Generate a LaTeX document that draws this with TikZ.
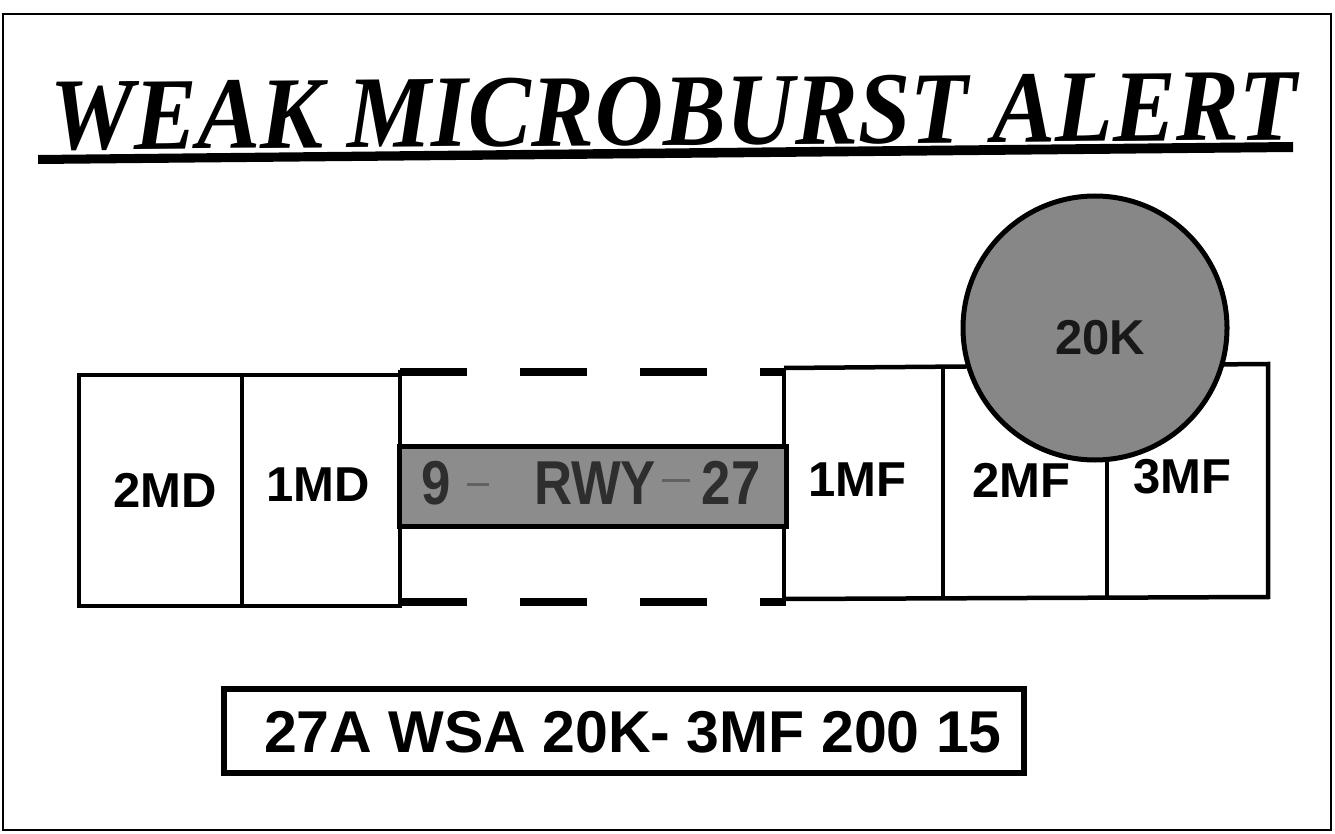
\documentclass[tikz,border=0pt]{standalone}
\usepackage{fontspec}
\setmainfont{Liberation Serif}
\newfontfamily\labfont{Liberation Sans}
\begin{document}
\begin{tikzpicture}[x=1pt,y=-1pt,
  cellline/.style={line width=4.5pt},
  lab/.style={font=\labfont\bfseries\fontsize{49}{49}\selectfont, inner sep=0pt},
  rwylab/.style={font=\labfont\bfseries\fontsize{62}{62}\selectfont, inner sep=0pt, text=black!82, xscale=0.85},
  dashline/.style={line width=8pt, dash pattern=on 67pt off 53pt}]
\useasboundingbox (0,0) rectangle (1335,834);
\fill[white] (0,0) rectangle (1335,834);
% frame
\draw[line width=2pt] (3,14) rectangle (1331,830);
% title
\node[inner sep=0pt, anchor=base west, rotate=0.46] (title) at (50,150)
  {\resizebox{1247pt}{68pt}{\bfseries\itshape WEAK MICROBURST ALERT}};
\fill (38,155) -- (1293,142) -- (1293,152) -- (38,164) -- cycle;
% left boxes
\draw[cellline] (79,375) rectangle (400,606);
\draw[cellline] (242,375) -- (242,606);
% runway dashed section
\draw[dashline] (400,372) -- (786,372);
\draw[dashline] (400,602) -- (786,602);
\draw[cellline] (400,370) -- (400,604);
\draw[cellline] (784,368) -- (784,604);
% right boxes
\draw[cellline] (784,368) -- (1268,364) -- (1268,597) -- (784,599);
\draw[cellline] (943,367) -- (943,599);
\draw[cellline] (1107,366) -- (1107,598);
% runway bar
\node[draw, line width=5pt, fill=black!45, minimum width=387pt, minimum height=80pt, inner sep=0pt] (rwy) at (593,486) {};
\node[rwylab] (r9) at (436,483) {9};
\node[rwylab] (rr) at (595,483) {RWY};
\node[rwylab] (r27) at (731,483) {27};
\draw[black!62, line width=3pt] (467,484) -- (489,484);
\draw[black!62, line width=3pt] (662,480) -- (690,480);
% labels
\node[lab] (md2) at (165,490) {2MD};
\node[lab] (md1) at (318,485) {1MD};
\node[lab] (mf1) at (857,480) {1MF};
\node[lab] (mf2) at (1021,480) {2MF};
\node[lab] (mf3) at (1182,477) {3MF};
% circle
\node[circle, draw, line width=5pt, fill=black!47, minimum size=264pt, inner sep=0pt] (burst) at (1095,328) {};
\node[lab, text=black!90] (k20) at (1100,338) {20K};
% bottom message
\node[draw, line width=6pt, minimum width=800pt, minimum height=84pt, inner sep=0pt] (msg) at (624,731) {};
\node[font=\labfont\bfseries\fontsize{59}{59}\selectfont, inner sep=0pt] (msgtxt) at (633,732) {27A WSA 20K- 3MF 200 15};
\end{tikzpicture}
\end{document}
